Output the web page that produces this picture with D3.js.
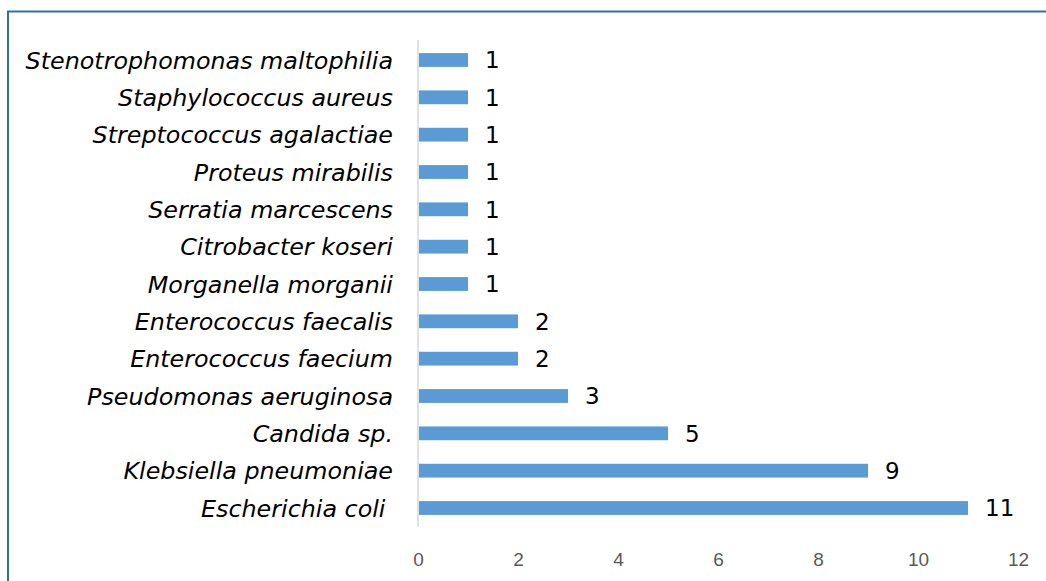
<!DOCTYPE html>
<html><head><meta charset="utf-8">
<script src="https://cdn.jsdelivr.net/npm/d3@7"></script>
<style>body{margin:0;background:#fff}svg{display:block}</style>
</head><body>
<svg id="c" width="1046" height="581"></svg>
<script>
const categories = ["Stenotrophomonas maltophilia","Staphylococcus aureus","Streptococcus agalactiae","Proteus mirabilis","Serratia marcescens","Citrobacter koseri","Morganella morganii","Enterococcus faecalis","Enterococcus faecium","Pseudomonas aeruginosa","Candida sp.","Klebsiella pneumoniae","Escherichia coli "];
const values = [1,1,1,1,1,1,1,2,2,3,5,9,11];
const xTicks = [0,2,4,6,8,10,12];

const svg = d3.select("#c");
// border
svg.append("rect").attr("x",8).attr("y",11.5).attr("width",1100).attr("height",700)
  .attr("fill","none").attr("stroke","#2e6fb0").attr("stroke-width",2);

const x = d3.scaleLinear().domain([0,12]).range([418,1018]);
const y = d3.scaleBand().domain(categories).range([41.33,526.67]).paddingInner(0.63).paddingOuter(0.315);

// axis line
svg.append("line").attr("x1",x(0)).attr("x2",x(0)).attr("y1",40).attr("y2",527)
  .attr("stroke","#d9d9d9").attr("stroke-width",1.5);

svg.selectAll("rect.bar").data(values).join("rect").attr("class","bar")
  .attr("x",x(0)+1).attr("y",(d,i)=>y(categories[i]))
  .attr("width",d=>x(d)-x(0)-1).attr("height",y.bandwidth())
  .attr("fill","#5b9bd5");

svg.selectAll("text.val").data(values).join("text").attr("class","val")
  .attr("x",d=>x(d)+17).attr("y",(d,i)=>y(categories[i])+y.bandwidth()/2)
  .attr("dy","0.36em").attr("font-family","DejaVu Sans").attr("font-size",23)
  .attr("fill","#000").text(d=>d);

svg.selectAll("text.cat").data(categories).join("text").attr("class","cat")
  .attr("x",393).attr("y",d=>y(d)+y.bandwidth()/2).attr("dy","0.36em")
  .style("white-space","pre")
  .attr("text-anchor","end").attr("font-family","DejaVu Sans").attr("font-style","italic")
  .attr("font-size",23.8).attr("fill","#000").text(d=>d);

const axis = d3.axisBottom(x).tickValues(xTicks).tickSize(0).tickFormat(d3.format("d"));
const g = svg.append("g").attr("transform","translate(0,549)").call(axis);
g.select(".domain").remove();
g.selectAll("text").attr("font-family","Liberation Sans").attr("font-size",19).attr("fill","#595959");
</script>
</body></html>
